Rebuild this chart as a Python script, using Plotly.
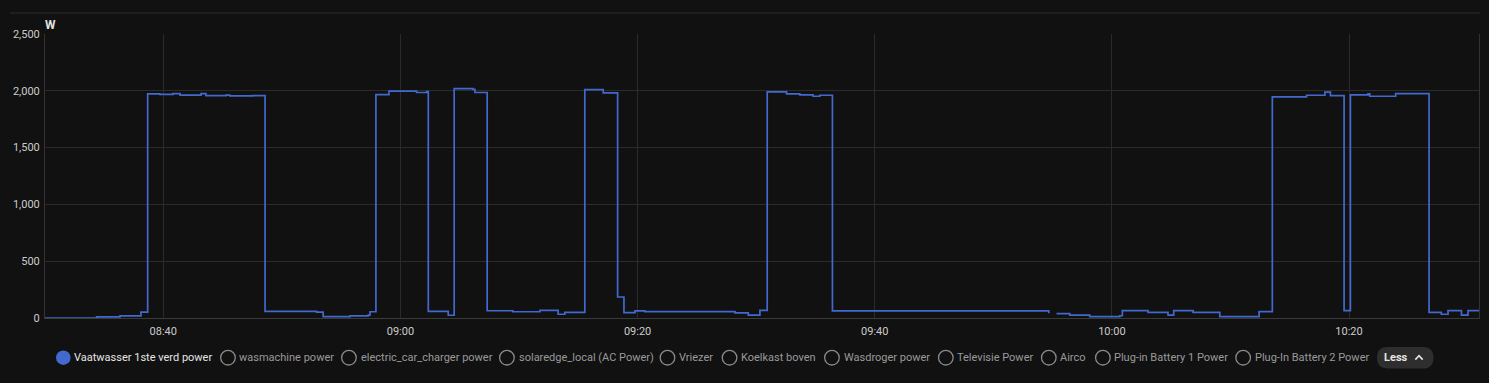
import plotly.graph_objects as go

# ---------------- data ----------------
times = [
    "08:30:02", "08:34:23", "08:36:21", "08:38:07", "08:38:41", "08:39:43", "08:40:49",
    "08:41:25", "08:43:11", "08:43:36", "08:45:17", "08:45:37", "08:47:34", "08:48:35",
    "08:52:56", "08:53:29", "08:55:45", "08:57:17", "08:57:26", "08:57:56", "08:59:02",
    "09:01:22", "09:02:13", "09:02:21", "09:04:02", "09:04:32", "09:06:07", "09:06:17",
    "09:07:19", "09:09:29", "09:11:46", "09:13:18", "09:13:52", "09:15:33", "09:17:06",
    "09:18:19", "09:18:51", "09:19:47", "09:20:37", "09:28:13", "09:29:20", "09:30:19",
    "09:30:56", "09:32:34", "09:33:41", "09:34:48", "09:35:22", "09:36:26", "09:54:41",
    "09:54:49", "09:55:20", "09:56:27", "09:58:08", "10:00:40", "10:00:53", "10:03:03",
    "10:04:44", "10:05:13", "10:06:51", "10:09:06", "10:12:25", "10:13:32", "10:16:25",
    "10:17:58", "10:18:26", "10:19:35", "10:20:07", "10:21:36", "10:21:45", "10:23:56",
    "10:26:45", "10:27:47", "10:28:21", "10:29:29", "10:30:02", "10:30:58",
]
power_w = [
    0, 10, 18, 52, 1973, 1968, 1976,
    1962, 1976, 1958, 1962, 1956, 1958, 59,
    52, 12, 18, 25, 55, 1967, 1997,
    1985, 1992, 59, 24, 2020, 2012, 1985,
    64, 55, 68, 33, 50, 2011, 1982,
    185, 47, 63, 56, 45, 26, 68,
    1991, 1973, 1965, 1952, 1961, 63, 41,
    None, 38, 25, 12, 20, 65, 50,
    26, 65, 50, 12, 56, 1947, 1961,
    1988, 1958, 65, 1964, 1973, 1952, 1976,
    50, 33, 65, 26, 65, 65,
]
y_ticks = [0, 500, 1000, 1500, 2000, 2500]
legend_names = [
    "Vaatwasser 1ste verd power", "wasmachine power", "electric_car_charger power",
    "solaredge_local (AC Power)", "Vriezer", "Koelkast boven", "Wasdroger power",
    "Televisie Power", "Airco", "Plug-in Battery 1 Power", "Plug-In Battery 2 Power",
]
unit_label = "W"
button_label = "Less"

# ---------------- layout constants ----------------
W, H = 1489, 383
L, R, T, B = 45, 1479.3, 34, 318
BG = "#111111"
GRID = "#2b2b2b"
BLUE = "#4269d0"
FONT = "Roboto"

day = "2024-01-01 "
x = [day + t for t in times]


def px(xp):
    return (xp - L) / (R - L)


def py(yp):
    return (B - yp) / (B - T)


fig = go.Figure()
fig.add_trace(go.Scatter(
    x=x, y=power_w, mode="lines", line=dict(color=BLUE, width=1.7, shape="hv"),
    connectgaps=False, showlegend=False, hoverinfo="skip",
))

shapes = []
annotations = []

# top separator line
shapes.append(dict(type="line", xref="paper", yref="paper", x0=px(10), x1=px(1480.7),
                   y0=py(13), y1=py(13), line=dict(color="#2f2f2f", width=1)))

# unit label
annotations.append(dict(text=unit_label, xref="paper", yref="paper", x=px(44), y=py(25.5),
                        xanchor="left", yanchor="middle", showarrow=False, borderpad=0,
                        font=dict(family=FONT, size=12, color="#e1e1e1", weight="bold")))

# legend (manual)
circle_cx = [63.3, 228, 349, 507, 667.6, 729.7, 832.1, 946, 1049, 1103.1, 1243.4]
text_x = [74.3, 239, 361, 518.6, 678.8, 741.3, 843.7, 956.8, 1060.3, 1114.3, 1255]
ly = 357.7
r = 7.3
for i, name in enumerate(legend_names):
    cx = circle_cx[i]
    active = i == 0
    shapes.append(dict(
        type="circle", xref="paper", yref="paper",
        x0=px(cx - r), x1=px(cx + r), y0=py(ly + r), y1=py(ly - r),
        fillcolor=BLUE if active else "rgba(0,0,0,0)",
        line=dict(color=BLUE if active else "#8a8a8a", width=0 if active else 1.3),
    ))
    annotations.append(dict(
        text=name, xref="paper", yref="paper", x=px(text_x[i] - 1), y=py(ly),
        xanchor="left", yanchor="middle", showarrow=False, borderpad=0,
        font=dict(family=FONT, size=11, color="#e6e6e6" if active else "#9a9a9a"),
    ))

# "Less" button
bx0, bx1, by0, by1, rr = 1377.3, 1433.8, 347, 368.5, 10.7


def P(a, b):
    return f"{px(a):.6f},{py(b):.6f}"


path = (f"M {P(bx0 + rr, by0)} L {P(bx1 - rr, by0)} Q {P(bx1, by0)} {P(bx1, by0 + rr)} "
        f"Q {P(bx1, by1)} {P(bx1 - rr, by1)} L {P(bx0 + rr, by1)} "
        f"Q {P(bx0, by1)} {P(bx0, by1 - rr)} Q {P(bx0, by0)} {P(bx0 + rr, by0)} Z")
shapes.append(dict(type="path", xref="paper", yref="paper", path=path,
                   fillcolor="#2e2e2e", line=dict(width=0)))
annotations.append(dict(text=button_label, xref="paper", yref="paper", x=px(1383), y=py(357.5),
                        xanchor="left", yanchor="middle", showarrow=False, borderpad=0,
                        font=dict(family=FONT, size=11, color="#e6e6e6", weight="bold")))
shapes.append(dict(type="path", xref="paper", yref="paper",
                   path=f"M {P(1415.6, 359.6)} L {P(1419.3, 355.7)} L {P(1423, 359.6)}",
                   line=dict(color="#e6e6e6", width=1.6)))

fig.update_layout(
    width=W, height=H,
    margin=dict(l=L, r=W - R, t=T, b=H - B, pad=0),
    paper_bgcolor=BG, plot_bgcolor=BG,
    shapes=shapes, annotations=annotations,
    showlegend=False,
    font=dict(family=FONT, size=11, color="#c9c9c9"),
    xaxis=dict(
        type="date",
        range=[day + "08:30:01.5", day + "10:30:57.7"],
        tick0=day + "08:40", dtick=20 * 60 * 1000, tickformat="%H:%M",
        showgrid=True, gridcolor=GRID, gridwidth=1,
        showline=True, linecolor="#3a3a3a", linewidth=1,
        zeroline=False, ticks="", ticklabelstandoff=3,
        tickfont=dict(family=FONT, size=11, color="#cccccc"),
    ),
    yaxis=dict(
        range=[0, 2500], tickvals=y_ticks, tickformat=",d",
        showgrid=True, gridcolor=GRID, gridwidth=1,
        showline=True, mirror=True, linecolor="#333333", linewidth=1,
        zeroline=False, ticks="", ticklabelstandoff=2,
        tickfont=dict(family=FONT, size=11, color="#cccccc"),
    ),
)

fig.write_html("out.html")
